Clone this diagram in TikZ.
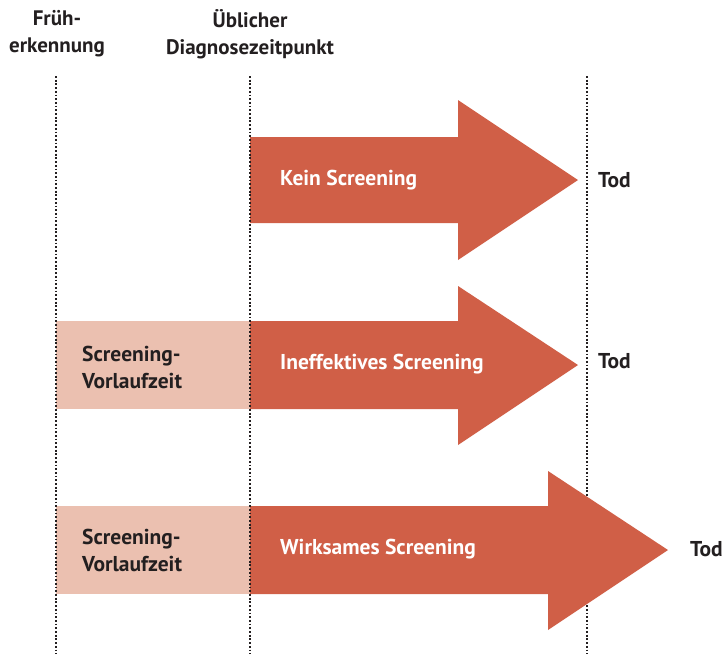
\documentclass[tikz,border=0pt]{standalone}
\usepackage{fontspec}
\setmainfont{PT Sans}
\definecolor{arrowred}{HTML}{D05F47}
\definecolor{leadpink}{HTML}{EBC0B0}
\definecolor{txtdark}{HTML}{231F20}
\begin{document}
\begin{tikzpicture}[x=1pt,y=-1pt,
  dotline/.style={line width=2pt,txtdark,dash pattern=on 1.8pt off 1.9pt},
  bigarrow/.style={fill=arrowred,draw=none},
  leadbox/.style={fill=leadpink,draw=none},
  hdr/.style={font=\fontsize{21}{27}\selectfont\bfseries,text=txtdark,align=center,inner sep=0pt},
  lbl/.style={font=\fontsize{21.5}{27}\selectfont\bfseries,inner sep=0pt,anchor=west},
  inlbl/.style={lbl,text=white},
  leadlbl/.style={lbl,text=txtdark,align=left},
  todlbl/.style={lbl,text=txtdark}]
\useasboundingbox (0,0) rectangle (723,654);
% right dotted line (behind arrows)
\coordinate (r1) at (587,76);
\coordinate (r2) at (587,654);
\draw[dotline] (r1) -- (r2);
% lead-time boxes
\fill[leadbox] (56,321) rectangle (251,409);
\fill[leadbox] (56,506) rectangle (251,594);
% arrows
\fill[bigarrow] (250,137) -- (458,137) -- (458,100) -- (578,180) -- (458,260) -- (458,223) -- (250,223) -- cycle;
\fill[bigarrow] (250,321) -- (458,321) -- (458,286) -- (578,365) -- (458,445) -- (458,409) -- (250,409) -- cycle;
\fill[bigarrow] (250,506) -- (548,506) -- (548,471) -- (668,550) -- (548,630) -- (548,594) -- (250,594) -- cycle;
% left and middle dotted lines
\coordinate (a1) at (56,76);
\coordinate (a2) at (56,654);
\coordinate (b1) at (250,76);
\coordinate (b2) at (250,654);
\draw[dotline] (a1) -- (a2);
\draw[dotline] (b1) -- (b2);
% headers
\node[hdr] (h1) at (57,34) {Früh-\\erkennung};
\node[hdr] (h2) at (250,34) {Üblicher\\Diagnosezeitpunkt};
% arrow labels
\node[inlbl] (k1) at (280,180) {Kein Screening};
\node[inlbl] (k2) at (280,364) {Ineffektives Screening};
\node[inlbl] (k3) at (280,549) {Wirksames Screening};
% lead labels
\node[leadlbl] (v1) at (82,367) {Screening-\\Vorlaufzeit};
\node[leadlbl] (v2) at (82,550) {Screening-\\Vorlaufzeit};
% death labels
\node[todlbl] (t1) at (598,180) {Tod};
\node[todlbl] (t2) at (598,361) {Tod};
\node[todlbl] (t3) at (690,549) {Tod};
\end{tikzpicture}
\end{document}
